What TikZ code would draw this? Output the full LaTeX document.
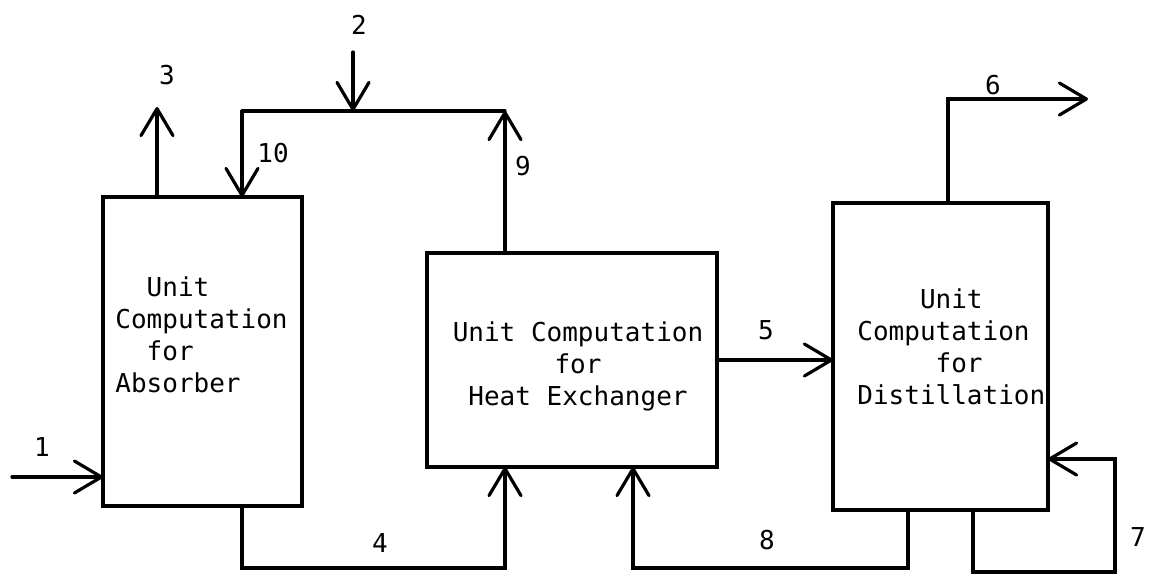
\documentclass[tikz,border=0pt]{standalone}
\usepackage{fontspec}
\newfontfamily\tw{DejaVu Sans Mono}
\usetikzlibrary{arrows.meta}
\tikzset{
  unitbox/.style={draw, line width=1.6pt, rectangle, inner sep=0pt, outer sep=0pt},
  flow/.style={line width=1.6pt, line join=miter, line cap=round},
  arr/.style={flow, -{Straight Barb[length=13.5pt,width=16pt,round]}},
  txt/.style={font=\tw\fontsize{13pt}{16pt}\selectfont, inner sep=0pt},
  lbl/.style={font=\tw\fontsize{13pt}{16pt}\selectfont, inner sep=0pt}
}
\begin{document}
\begin{tikzpicture}[x=0.5pt,y=-0.5pt]
\useasboundingbox (0,0) rectangle (1150,585);
% boxes
\node[unitbox, minimum width=99.5pt, minimum height=154.5pt] (abs) at (202.5,351.5) {};
\node[unitbox, minimum width=145pt, minimum height=107pt] (hx) at (572,360) {};
\node[unitbox, minimum width=107.5pt, minimum height=153.5pt] (dist) at (940.5,356.5) {};
% box texts
\node[txt, align=left, anchor=west] (absT) at (115,334.5) {\hphantom{Co}Unit\\Computation\\\hphantom{Co}for\\Absorber};
\node[txt, align=center] (hxT) at (578,366) {Unit Computation\\for\\Heat Exchanger};
\node[txt, align=left, anchor=west] (distT) at (857,347) {\hphantom{Comp}Unit\\Computation\\\hphantom{Compu}for\\Distillation};
% coordinates
\coordinate (a3) at (157,107);
\coordinate (tl) at (242,111);
\coordinate (tr) at (505,111);
\coordinate (s2) at (353,52);
\coordinate (s1) at (12,477);
\coordinate (c4) at (242,568);
\coordinate (c8) at (908,568);
\coordinate (c8b) at (633,568);
\coordinate (c6) at (948,99);
\coordinate (e6) at (1088,99);
\coordinate (c7a) at (973,572);
\coordinate (c7b) at (1115,572);
\coordinate (c7c) at (1115,459);
% connectors
\draw[arr] (abs.north -| a3) -- (a3);
\draw[flow] (tr) -- (tl);
\draw[arr] (tl) -- (abs.north -| tl);
\draw[arr] (hx.north -| tr) -- (tr);
\draw[arr] (s2) -- (s2 |- tl);
\draw[arr] (s1) -- (s1 -| abs.west);
\draw[arr] (abs.south -| c4) -- (c4) -- (c4 -| tr) -- (hx.south -| tr);
\draw[arr] (hx.east) -- (hx.east -| dist.west);
\draw[arr] (dist.south -| c8) -- (c8) -- (c8b) -- (hx.south -| c8b);
\draw[arr] (dist.north -| c6) -- (c6) -- (e6);
\draw[arr] (dist.south -| c7a) -- (c7a) -- (c7b) -- (c7c) -- (c7c -| dist.east);
% labels
\node[lbl] (l1) at (42,447) {1};
\node[lbl] (l2) at (359,25) {2};
\node[lbl] (l3) at (167,75) {3};
\node[lbl] (l4) at (380,543) {4};
\node[lbl] (l5) at (766,330) {5};
\node[lbl] (l6) at (993,85) {6};
\node[lbl] (l7) at (1138,537) {7};
\node[lbl] (l8) at (767,540) {8};
\node[lbl] (l9) at (523,166) {9};
\node[lbl] (l10) at (273,153) {10};
\end{tikzpicture}
\end{document}
